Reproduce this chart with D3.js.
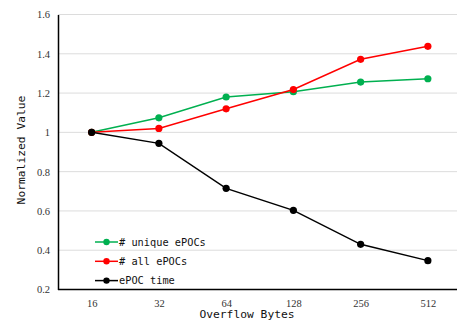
<!DOCTYPE html>
<html>
<head>
<meta charset="utf-8">
<script src="https://cdn.jsdelivr.net/npm/d3@7"></script>
<style>
  body { margin: 0; background: #fff; }
  .lbl { font-family: "DejaVu Sans Mono", monospace; font-size: 11.3px; fill: #111; }
  .leg { font-family: "DejaVu Sans Mono", monospace; font-size: 10.3px; fill: #111; }
</style>
</head>
<body>
<script>
// データ
var bytes = ["16", "32", "64", "128", "256", "512"];
var uniqueEpocs = [1, 1.074, 1.18, 1.207, 1.256, 1.273];
var allEpocs = [1, 1.02, 1.12, 1.218, 1.372, 1.438];
var epocTime = [1, 0.944, 0.715, 0.603, 0.43, 0.347];
var yTicks = [0.2, 0.4, 0.6, 0.8, 1, 1.2, 1.4, 1.6];

var series = [
  {name: "# unique ePOCs", color: "#00b050", values: uniqueEpocs},
  {name: "# all ePOCs", color: "#ff0000", values: allEpocs},
  {name: "ePOC time", color: "#000000", values: epocTime}
];

var width = 458, height = 321;
var margin = {top: 14.5, right: 1, bottom: 31.5, left: 58};

var svg = d3.select("body").append("svg")
  .attr("width", width)
  .attr("height", height);

// X軸
var x = d3.scalePoint().domain(bytes)
  .range([margin.left, 461.5])
  .padding(0.5);

// Y軸
var y = d3.scaleLinear().domain([0.2, 1.6])
  .range([height - margin.bottom, margin.top]);

// グリッド
svg.append("g")
  .selectAll("line")
  .data(yTicks.slice(1))
  .join("line")
  .attr("x1", margin.left)
  .attr("x2", width - margin.right)
  .attr("y1", d => y(d))
  .attr("y2", d => y(d))
  .attr("stroke", "#dcdcdc")
  .attr("stroke-width", 1);

var yAxis = svg.append("g")
  .attr("transform", "translate(" + margin.left + ",0)")
  .call(d3.axisLeft(y).tickValues(yTicks).tickSize(0).tickPadding(8).tickFormat(d3.format("")))
  .attr("font-family", "Liberation Serif")
  .attr("font-size", 10.5);
yAxis.select(".domain").attr("stroke", "#000").attr("stroke-width", 1.5);

var xAxis = svg.append("g")
  .attr("transform", "translate(0," + y(0.2) + ")")
  .call(d3.axisBottom(x).tickSize(0).tickPadding(10))
  .attr("font-family", "Liberation Serif")
  .attr("font-size", 10.5);
xAxis.select(".domain")
  .attr("d", "M" + margin.left + ",0H" + (width - margin.right))
  .attr("stroke", "#000").attr("stroke-width", 1.5);

svg.selectAll(".tick text").attr("fill", "#333");

// 線とマーカー
var line = d3.line()
  .x((d, i) => x(bytes[i]))
  .y(d => y(d));

series.forEach(s => {
  svg.append("path")
    .datum(s.values)
    .attr("fill", "none")
    .attr("stroke", s.color)
    .attr("stroke-width", 1.5)
    .attr("d", line);
  svg.append("g")
    .selectAll("circle")
    .data(s.values)
    .join("circle")
    .attr("cx", (d, i) => x(bytes[i]))
    .attr("cy", d => y(d))
    .attr("r", 3.6)
    .attr("fill", s.color);
});

// 凡例
var legend = svg.append("g").attr("transform", "translate(95,242)");
series.forEach((s, i) => {
  var g = legend.append("g").attr("transform", "translate(0," + (i * 19.3) + ")");
  g.append("line").attr("x1", 0).attr("x2", 23).attr("stroke", s.color).attr("stroke-width", 1.5);
  g.append("circle").attr("cx", 11.5).attr("r", 3.2).attr("fill", s.color);
  g.append("text").attr("class", "leg").attr("x", 24).attr("dy", "0.35em").text(s.name);
});

// 軸ラベル
svg.append("text").attr("class", "lbl")
  .attr("x", 247).attr("y", 318)
  .attr("text-anchor", "middle")
  .text("Overflow Bytes");

svg.append("text").attr("class", "lbl")
  .attr("transform", "translate(25," + 150 + ") rotate(-90)")
  .attr("text-anchor", "middle")
  .text("Normalized Value");
</script>
</body>
</html>
